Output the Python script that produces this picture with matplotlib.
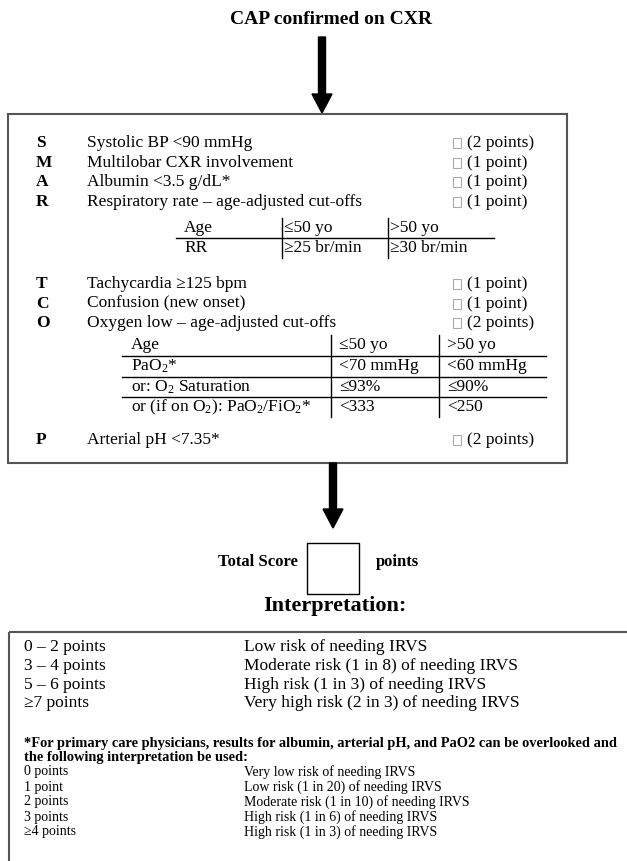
import matplotlib
matplotlib.use("Agg")
import matplotlib.pyplot as plt
from matplotlib.patches import Rectangle, FancyArrow

plt.rcParams['font.family'] = ['Liberation Serif', 'DejaVu Serif']
plt.rcParams['mathtext.fontset'] = 'custom'
plt.rcParams['mathtext.rm'] = 'Liberation Serif'
plt.rcParams['mathtext.it'] = 'Liberation Serif:italic'

##### contenu du score SMART-COP
letters = ["S", "M", "A", "R"]
items = ["Systolic BP <90 mmHg", "Multilobar CXR involvement",
         "Albumin <3.5 g/dL*", "Respiratory rate \u2013 age-adjusted cut-offs"]
points = ["(2 points)", "(1 point)", "(1 point)", "(1 point)"]

letters2 = ["T", "C", "O"]
items2 = ["Tachycardia \u2265125 bpm", "Confusion (new onset)",
          "Oxygen low \u2013 age-adjusted cut-offs"]
points2 = ["(1 point)", "(1 point)", "(2 points)"]

rr_rows = [["Age", "\u226450 yo", ">50 yo"],
           ["RR", "\u226525 br/min", "\u226530 br/min"]]

oxy_rows = [["Age", "\u226450 yo", ">50 yo"],
            ["PaO$_2$*", "<70 mmHg", "<60 mmHg"],
            ["or: O$_2$ Saturation", "\u226493%", "\u226490%"],
            ["or (if on O$_2$): PaO$_2$/FiO$_2$*", "<333", "<250"]]

last_letter = "P"
last_item = "Arterial pH <7.35*"
last_points = "(2 points)"

interp_ranges = ["0 \u2013 2 points", "3 \u2013 4 points", "5 \u2013 6 points", "\u22657 points"]
interp_risks = ["Low risk of needing IRVS",
                "Moderate risk (1 in 8) of needing IRVS",
                "High risk (1 in 3) of needing IRVS",
                "Very high risk (2 in 3) of needing IRVS"]

footnote = ["*For primary care physicians, results for albumin, arterial pH, and PaO2 can be overlooked and",
            "the following interpretation be used:"]
pcp_ranges = ["0 points", "1 point", "2 points", "3 points", "\u22654 points"]
pcp_risks = ["Very low risk of needing IRVS",
             "Low risk (1 in 20) of needing IRVS",
             "Moderate risk (1 in 10) of needing IRVS",
             "High risk (1 in 6) of needing IRVS",
             "High risk (1 in 3) of needing IRVS"]

##### figure en coordonnées pixels (y vers le bas)
fig = plt.figure(figsize=(6.27, 8.61), dpi=100)
ax = fig.add_axes([0, 0, 1, 1])
ax.set_xlim(0, 627)
ax.set_ylim(861, 0)
ax.axis("off")

fs = 12.5
box_col = "#555555"

def checkbox(x, y):
    ax.add_patch(Rectangle((x, y - 5), 8, 10, fill=False, ec="#aaaaaa", lw=0.8))

def row(y, letter, item, pts):
    ax.text(36, y, letter, fontsize=fs, fontweight="bold", va="center")
    ax.text(87, y, item, fontsize=fs, va="center")
    checkbox(453, y)
    ax.text(467, y, pts, fontsize=fs, va="center")

# titre + flèche
ax.text(331, 20, "CAP confirmed on CXR", fontsize=14, fontweight="bold",
        ha="center", va="center")
ax.add_patch(FancyArrow(322, 37, 0, 76, width=7, head_width=20, head_length=19,
                        length_includes_head=True, color="black"))

# cadre principal
ax.add_patch(Rectangle((8, 114), 559, 349, fill=False, ec=box_col, lw=1.5))

for i in range(len(letters)):
    row(143 + 19.7 * i, letters[i], items[i], points[i])

# tableau fréquence respiratoire
t1_y = [228, 248]
for r in range(len(rr_rows)):
    ax.text(184, t1_y[r], rr_rows[r][0], fontsize=fs, va="center")
    ax.text(284, t1_y[r], rr_rows[r][1], fontsize=fs, va="center")
    ax.text(390, t1_y[r], rr_rows[r][2], fontsize=fs, va="center")
ax.plot([176, 494], [238, 238], color="black", lw=1)
ax.plot([282, 282], [218, 258], color="black", lw=1)
ax.plot([388, 388], [218, 258], color="black", lw=1)

for i in range(len(letters2)):
    row(284 + 19.5 * i, letters2[i], items2[i], points2[i])

# tableau oxygène
t2_y = [345, 366, 387, 407]
for r in range(len(oxy_rows)):
    ax.text(131, t2_y[r], oxy_rows[r][0], fontsize=fs, va="center")
    ax.text(339, t2_y[r], oxy_rows[r][1], fontsize=fs, va="center")
    ax.text(447, t2_y[r], oxy_rows[r][2], fontsize=fs, va="center")
for yl in [356, 377, 397]:
    ax.plot([122, 546], [yl, yl], color="black", lw=1)
ax.plot([331, 331], [335, 417], color="black", lw=1)
ax.plot([439, 439], [335, 417], color="black", lw=1)

row(440, last_letter, last_item, last_points)

# deuxième flèche
ax.add_patch(FancyArrow(333, 463, 0, 65, width=7, head_width=20, head_length=19,
                        length_includes_head=True, color="black"))

# score total
ax.text(218, 562, "Total Score", fontsize=12, fontweight="bold", va="center")
ax.add_patch(Rectangle((307, 543), 52, 51, fill=False, ec="black", lw=1))
ax.text(376, 562, "points", fontsize=12, fontweight="bold", va="center")
ax.text(335, 606, "Interpretation:", fontsize=16, fontweight="bold",
        ha="center", va="center")

# cadre interprétation (coupé à droite et en bas)
ax.add_patch(Rectangle((9, 632), 700, 300, fill=False, ec=box_col, lw=1.5,
                       clip_on=True))

for i in range(len(interp_ranges)):
    y = 647 + 18.8 * i
    ax.text(24, y, interp_ranges[i], fontsize=fs, va="center")
    ax.text(244, y, interp_risks[i], fontsize=fs, va="center")

ax.text(24, 743, footnote[0], fontsize=10.4, fontweight="bold", va="center")
ax.text(24, 758, footnote[1], fontsize=10.4, fontweight="bold", va="center")
for i in range(len(pcp_ranges)):
    y = 772 + 15 * i
    ax.text(24, y, pcp_ranges[i], fontsize=10, va="center")
    ax.text(244, y, pcp_risks[i], fontsize=10, va="center")

fig.savefig("out.png", dpi=100)
